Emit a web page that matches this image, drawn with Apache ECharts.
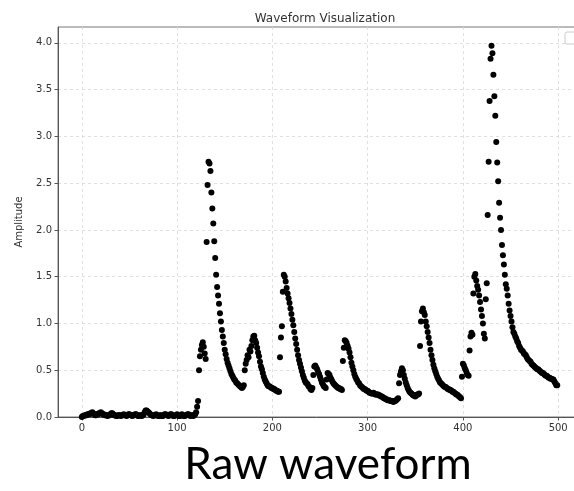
<!DOCTYPE html>
<html>
<head>
<meta charset="utf-8">
<script src="https://cdn.jsdelivr.net/npm/echarts@6/dist/echarts.min.js"></script>
<style>
  html, body { margin: 0; padding: 0; background: #ffffff; }
  #chart { width: 574px; height: 491px; }
</style>
</head>
<body>
<div id="chart"></div>
<script>
// Amplitude per sample, one value per index, split by section of the recording.
// Samples 0-120: quiet baseline before the first event.
const quietSegment = [
  0.00,0.01,0.01,0.02,0.02,0.02,0.03,0.03,0.03,0.04,
  0.04,0.05,0.04,0.03,0.02,0.02,0.03,0.03,0.04,0.04,
  0.05,0.04,0.03,0.03,0.02,0.02,0.02,0.01,0.02,0.02,
  0.03,0.04,0.04,0.03,0.02,0.02,0.01,0.01,0.02,0.02,
  0.02,0.01,0.02,0.02,0.03,0.02,0.02,0.01,0.02,0.03,
  0.03,0.02,0.02,0.01,0.02,0.02,0.03,0.03,0.02,0.01,
  0.01,0.02,0.02,0.01,0.02,0.03,0.05,0.07,0.07,0.06,
  0.05,0.04,0.03,0.02,0.02,0.01,0.02,0.02,0.03,0.02,
  0.01,0.01,0.02,0.02,0.01,0.01,0.02,0.03,0.03,0.02,
  0.02,0.01,0.02,0.03,0.03,0.02,0.01,0.01,0.02,0.02,
  0.03,0.02,0.01,0.01,0.02,0.03,0.02,0.01,0.01,0.02,
  0.02,0.03,0.03,0.02,0.01,0.02,0.02,0.01,0.02,0.03,
  0.05
];
// Samples 121-207: first burst and its aftershock.
const burst1 = [
  0.11,0.17,0.50,0.65,0.72,0.77,0.80,0.75,0.68,0.62,
  1.87,2.48,2.73,2.71,2.63,2.40,2.23,2.07,1.88,1.70,
  1.52,1.39,1.30,1.21,1.11,1.02,0.93,0.86,0.79,0.72,
  0.67,0.62,0.58,0.55,0.52,0.49,0.46,0.44,0.42,0.40,
  0.39,0.37,0.36,0.35,0.34,0.33,0.32,0.31,0.32,0.34,
  0.50,0.57,0.61,0.66,0.64,0.72,0.70,0.76,0.82,0.86,
  0.87,0.82,0.79,0.74,0.69,0.65,0.59,0.54,0.51,0.47,
  0.43,0.40,0.38,0.36,0.34,0.33,0.33,0.32,0.31,0.31,
  0.30,0.30,0.29,0.28,0.28,0.27,0.27
];
// Samples 208-273: second burst with two small ripples.
const burst2 = [
  0.64,0.85,0.97,1.34,1.52,1.50,1.45,1.38,1.32,1.27,
  1.22,1.16,1.10,1.04,0.98,0.91,0.84,0.78,0.72,0.66,
  0.61,0.57,0.53,0.49,0.45,0.42,0.39,0.37,0.36,0.35,
  0.33,0.32,0.30,0.29,0.31,0.45,0.54,0.55,0.53,0.51,
  0.48,0.46,0.43,0.40,0.37,0.35,0.33,0.32,0.31,0.40,
  0.47,0.46,0.45,0.42,0.40,0.38,0.36,0.35,0.34,0.33,
  0.32,0.31,0.31,0.30,0.30,0.29
];
// Samples 274-354: third burst, long tail and a small ripple.
const burst3 = [
  0.60,0.74,0.82,0.81,0.79,0.76,0.73,0.69,0.64,0.58,
  0.54,0.50,0.46,0.43,0.41,0.39,0.37,0.36,0.34,0.33,
  0.32,0.31,0.30,0.30,0.29,0.28,0.28,0.27,0.26,0.26,
  0.25,0.25,0.26,0.25,0.24,0.24,0.24,0.24,0.23,0.23,
  0.22,0.22,0.21,0.20,0.20,0.19,0.19,0.18,0.18,0.18,
  0.17,0.17,0.17,0.16,0.17,0.17,0.18,0.19,0.20,0.36,
  0.45,0.49,0.52,0.50,0.45,0.41,0.37,0.34,0.31,0.29,
  0.27,0.26,0.25,0.24,0.23,0.23,0.22,0.23,0.24,0.24,
  0.25
];
// Samples 355-398: fourth burst.
const burst4 = [
  0.76,1.02,1.13,1.16,1.12,1.09,1.02,0.97,0.91,0.85,
  0.79,0.72,0.66,0.61,0.56,0.52,0.49,0.46,0.43,0.41,
  0.39,0.37,0.36,0.35,0.34,0.33,0.32,0.32,0.31,0.30,
  0.30,0.29,0.29,0.28,0.27,0.27,0.26,0.25,0.24,0.24,
  0.23,0.22,0.21,0.20
];
// Samples 399-499: main event, the largest peak.
const burst5 = [
  0.43,0.57,0.55,0.52,0.50,0.47,0.45,0.44,0.71,0.86,
  0.90,0.88,1.32,1.50,1.53,1.46,1.40,1.36,1.30,1.23,
  1.15,1.08,1.00,0.89,0.84,1.26,1.43,2.16,2.73,3.38,
  3.83,3.97,3.89,3.66,3.43,3.22,2.94,2.72,2.52,2.29,
  2.13,2.00,1.84,1.73,1.63,1.52,1.42,1.37,1.30,1.21,
  1.14,1.08,1.02,0.96,0.91,0.89,0.86,0.84,0.81,0.79,
  0.76,0.74,0.72,0.71,0.70,0.68,0.67,0.66,0.64,0.62,
  0.61,0.60,0.59,0.57,0.56,0.55,0.54,0.53,0.52,0.51,
  0.51,0.50,0.49,0.48,0.47,0.47,0.46,0.45,0.44,0.44,
  0.43,0.42,0.42,0.41,0.41,0.40,0.40,0.38,0.36,0.34,
  0.34
];

// Axis tick values
const xTicks = [0, 100, 200, 300, 400, 500];
const yTicks = [0, 0.5, 1.0, 1.5, 2.0, 2.5, 3.0, 3.5, 4.0];

const amplitude = [].concat(quietSegment, burst1, burst2, burst3, burst4, burst5);
const points = amplitude.map((v, i) => [i, v]);

const chart = echarts.init(document.getElementById('chart'), null, { renderer: 'canvas' });

const tickFont = 'DejaVu Sans';
const gridLine = { show: true, lineStyle: { color: '#d9d9d9', type: [3, 3], width: 0.8 } };

chart.setOption({
  animation: false,
  backgroundColor: '#ffffff',
  title: {
    text: 'Waveform Visualization',
    left: 320,
    textAlign: 'center',
    top: 8,
    textStyle: { fontFamily: tickFont, fontSize: 12, fontWeight: 'normal', color: '#333333' }
  },
  grid: {
    left: 58,
    top: 27,
    width: 524,
    bottom: 74,
    outerBoundsMode: 'none',
    containLabel: false,
    show: true,
    borderColor: '#777777',
    borderWidth: 1,
    backgroundColor: 'transparent'
  },
  xAxis: {
    type: 'value',
    min: -25,
    max: 525,
    axisLine: { show: true, onZero: false, lineStyle: { color: '#555555', width: 1 } },
    axisTick: { show: true, inside: false, length: 3.5, customValues: xTicks, lineStyle: { color: '#555555' } },
    axisLabel: {
      customValues: xTicks,
      margin: 6,
      fontFamily: tickFont,
      fontSize: 10,
      color: '#333333',
      formatter: v => String(Math.round(v))
    },
    splitLine: gridLine
  },
  yAxis: {
    type: 'value',
    min: 0,
    max: 4.17,
    name: 'Amplitude',
    nameLocation: 'middle',
    nameGap: 34,
    nameTextStyle: { fontFamily: tickFont, fontSize: 10, color: '#333333' },
    axisLine: { show: true, onZero: false, lineStyle: { color: '#555555', width: 1 } },
    axisTick: { show: true, inside: false, length: 3.5, customValues: yTicks, lineStyle: { color: '#555555' } },
    axisLabel: {
      customValues: yTicks,
      margin: 6,
      fontFamily: tickFont,
      fontSize: 10,
      color: '#333333',
      formatter: v => v.toFixed(1)
    },
    splitLine: gridLine
  },
  series: [{
    type: 'scatter',
    data: points,
    symbol: 'circle',
    symbolSize: 6,
    itemStyle: { color: '#000000', opacity: 1 },
    clip: true
  }],
  graphic: [
    {
      // empty legend frame in the upper right corner
      type: 'rect',
      shape: { x: 565, y: 32, width: 14, height: 12, r: 2 },
      style: { fill: '#ffffff', stroke: '#cccccc', lineWidth: 1 },
      silent: true,
      z: 10
    },
    {
      type: 'text',
      style: {
        text: 'Raw waveform',
        x: 328,
        y: 465,
        align: 'center',
        verticalAlign: 'middle',
        fontFamily: 'Lato',
        fontSize: 44,
        fill: '#000000'
      },
      silent: true
    }
  ]
});
</script>
</body>
</html>
